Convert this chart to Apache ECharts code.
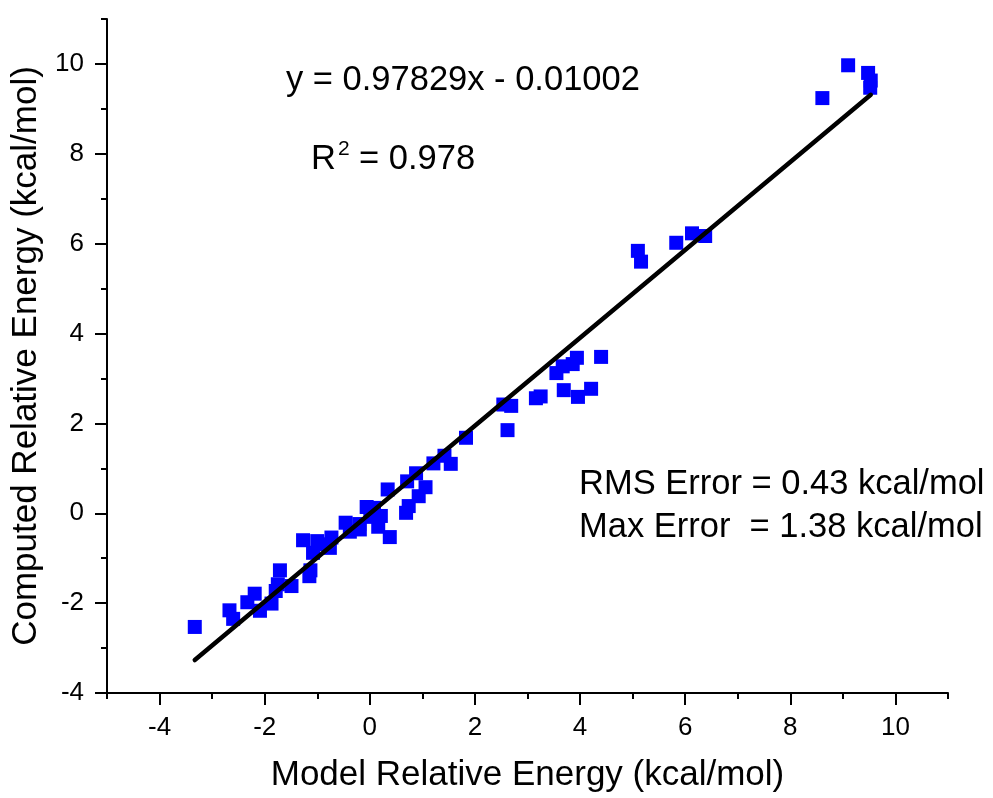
<!DOCTYPE html>
<html>
<head>
<meta charset="utf-8">
<script src="https://cdn.jsdelivr.net/npm/echarts@6/dist/echarts.min.js"></script>
<style>
  html, body { margin: 0; padding: 0; background: #fff; }
  #chart { width: 993px; height: 798px; }
</style>
</head>
<body>
<div id="chart"></div>
<script>
// Model vs. computed relative energies (kcal/mol)
const modelEnergy = [
  -3.33, -2.67, -2.60, -2.33, -2.19, -2.09, -1.87, -1.79, -1.75, -1.71,
  -1.49, -1.13, -1.15, -1.27, -1.00, -1.08, -0.90, -0.76, -0.73, -0.46,
  -0.38, -0.19, -0.20, -0.06, 0.08, 0.01, 0.21, 0.16, 0.38, 0.34,
  0.69, 0.74, 0.93, 1.06, 0.71, 0.88, 1.21, 1.42, 1.54, 1.83,
  2.54, 2.69, 2.62, 3.16, 3.25, 3.55, 3.67, 3.86, 3.94, 4.40,
  3.69, 3.96, 4.21, 5.10, 5.16, 5.83, 6.13, 6.38, 8.61, 9.10,
  9.48, 9.53, 9.52
];
const computedEnergy = [
  -2.53, -2.16, -2.35, -1.98, -1.79, -2.17, -2.01, -1.73, -1.58, -1.27,
  -1.62, -1.27, -1.40, -0.60, -0.62, -0.88, -0.69, -0.77, -0.54, -0.21,
  -0.41, -0.36, -0.24, 0.14, 0.12, -0.08, -0.06, -0.30, -0.53, 0.53,
  0.01, 0.16, 0.38, 0.58, 0.71, 0.89, 1.11, 1.28, 1.10, 1.68,
  2.42, 2.39, 1.85, 2.56, 2.60, 3.12, 3.27, 3.32, 3.46, 3.48,
  2.74, 2.59, 2.77, 5.84, 5.60, 6.02, 6.23, 6.17, 9.24, 9.97,
  9.80, 9.63, 9.47
];

// Linear fit reported on the chart
const fitSlope = 0.97829;
const fitIntercept = -0.01002;

// Axis ticks
const xMajorTicks = [-4, -2, 0, 2, 4, 6, 8, 10];
const xMinorTicks = [-5, -3, -1, 1, 3, 5, 7, 9, 11];
const yMajorTicks = [-4, -2, 0, 2, 4, 6, 8, 10];
const yMinorTicks = [-3, -1, 1, 3, 5, 7, 9, 11];

const FONT = '"Liberation Sans", Arial, sans-serif';

const points = modelEnergy.map((x, i) => [x, computedEnergy[i]]);
const xLo = Math.min(...modelEnergy);
const xHi = Math.max(...modelEnergy);
const fitLine = [
  [xLo, fitSlope * xLo + fitIntercept],
  [xHi, fitSlope * xHi + fitIntercept]
];

const chart = echarts.init(document.getElementById('chart'), null, { renderer: 'canvas' });

const axisBase = {
  type: 'value',
  splitLine: { show: false }
};

chart.setOption({
  animation: false,
  backgroundColor: '#ffffff',
  grid: { left: 107, right: 45, top: 19, bottom: 105, containLabel: false },
  xAxis: [
    Object.assign({}, axisBase, {
      min: -5, max: 11,
      position: 'bottom',
      name: 'Model Relative Energy (kcal/mol)',
      nameLocation: 'middle',
      nameGap: 65,
      nameTextStyle: { fontFamily: FONT, fontSize: 35, color: '#000' },
      axisLine: { show: true, onZero: false, lineStyle: { color: '#000', width: 2 } },
      axisTick: { show: true, inside: false, length: 12, customValues: xMajorTicks, lineStyle: { color: '#000', width: 2 } },
      axisLabel: { show: true, customValues: xMajorTicks, margin: 22, fontFamily: FONT, fontSize: 26, color: '#000' }
    }),
    Object.assign({}, axisBase, {
      min: -5, max: 11,
      position: 'bottom',
      axisLine: { show: false, onZero: false },
      axisTick: { show: true, inside: false, length: 6, customValues: xMinorTicks, lineStyle: { color: '#000', width: 2 } },
      axisLabel: { show: false }
    })
  ],
  yAxis: [
    Object.assign({}, axisBase, {
      min: -4, max: 11,
      position: 'left',
      name: 'Computed Relative Energy (kcal/mol)',
      nameLocation: 'middle',
      nameGap: 56,
      nameTextStyle: { fontFamily: FONT, fontSize: 35, color: '#000' },
      axisLine: { show: true, onZero: false, lineStyle: { color: '#000', width: 2 } },
      axisTick: { show: true, inside: false, length: 12, customValues: yMajorTicks, lineStyle: { color: '#000', width: 2 } },
      axisLabel: { show: true, customValues: yMajorTicks, margin: 23, fontFamily: FONT, fontSize: 26, color: '#000' }
    }),
    Object.assign({}, axisBase, {
      min: -4, max: 11,
      position: 'left',
      axisLine: { show: false, onZero: false },
      axisTick: { show: true, inside: false, length: 6, customValues: yMinorTicks, lineStyle: { color: '#000', width: 2 } },
      axisLabel: { show: false }
    })
  ],
  series: [
    {
      type: 'scatter',
      xAxisIndex: 0, yAxisIndex: 0,
      symbol: 'rect',
      symbolSize: 14,
      itemStyle: { color: '#0000ff', opacity: 1 },
      data: points,
      z: 2
    },
    {
      type: 'line',
      xAxisIndex: 0, yAxisIndex: 0,
      data: fitLine,
      symbol: 'none',
      lineStyle: { color: '#000', width: 4.5, cap: 'round' },
      z: 3
    }
  ],
  graphic: [
    {
      type: 'text', left: 286, top: 63,
      style: { text: 'y = 0.97829x - 0.01002', font: '34.5px ' + FONT, fill: '#000' }
    },
    {
      type: 'text', left: 311, top: 142,
      style: { text: 'R', font: '34.5px ' + FONT, fill: '#000' }
    },
    {
      type: 'text', left: 338, top: 139,
      style: { text: '2', font: '21px ' + FONT, fill: '#000' }
    },
    {
      type: 'text', left: 359, top: 142,
      style: { text: '= 0.978', font: '34.5px ' + FONT, fill: '#000' }
    },
    {
      type: 'text', left: 579, top: 467,
      style: { text: 'RMS Error = 0.43 kcal/mol', font: '34.5px ' + FONT, fill: '#000' }
    },
    {
      type: 'text', left: 579, top: 510,
      style: { text: 'Max Error  = 1.38 kcal/mol', font: '34.5px ' + FONT, fill: '#000' }
    }
  ]
});
</script>
</body>
</html>
